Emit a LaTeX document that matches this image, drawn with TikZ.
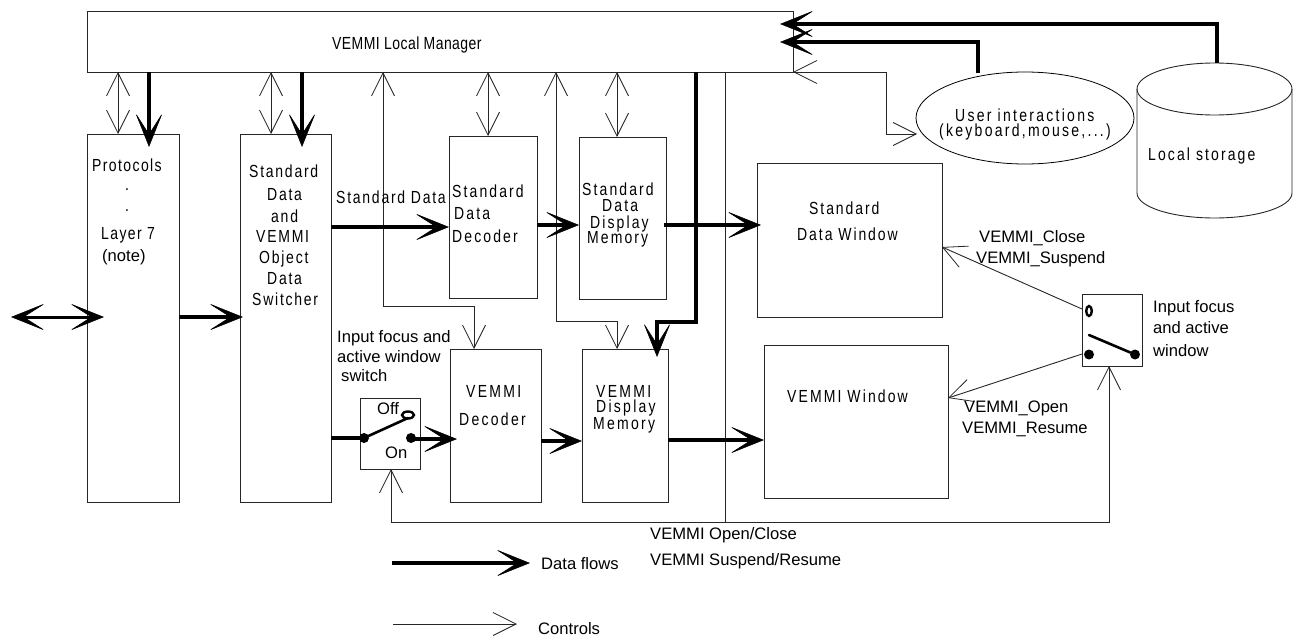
\documentclass[tikz,border=0pt]{standalone}
\usepackage{fontspec}
\usetikzlibrary{arrows.meta,shapes.geometric}
\setmainfont{Liberation Sans}
\newfontfamily\narfont[FakeStretch=0.8]{Liberation Sans}
\newcommand{\ls}[1]{\fontsize{17.5}{20}\selectfont\narfont\addfontfeature{LetterSpace=#1}}
\tikzset{
  x=1pt,y=-1pt,
  every path/.style={line join=miter},
  box/.style={draw=black!85,line width=0.9pt,anchor=north west,inner sep=0pt,outer sep=0pt},
  thinhead/.tip={Straight Barb[length=23pt,width=23pt,line width=0.8pt]},
  fathead/.tip={Stealth[length=35pt,width=28pt,inset=22pt,line width=0.6pt]},
  ctl/.style={draw=black!85,line width=0.9pt,-thinhead},
  ctlb/.style={draw=black!85,line width=0.9pt,thinhead-thinhead},
  flow/.style={draw=black,line width=4pt,-fathead},
  flowb/.style={draw=black,line width=3pt,fathead-fathead},
  plain/.style={font=\fontsize{16.6}{20}\selectfont,anchor=base west,inner sep=0pt,align=left},
  sp/.style={font=\ls{#1},anchor=base west,inner sep=0pt,align=left},
  blk/.style={sp=#1,execute at begin node={\baselineskip=0pt\lineskiplimit=-100pt\lineskip=0pt}},
  pblk/.style={plain,execute at begin node={\baselineskip=0pt\lineskiplimit=-100pt\lineskip=0pt}},
  dot/.style={circle,fill=black,inner sep=0pt,minimum size=10pt},
  lever/.style={draw=black,line width=2.6pt,line cap=round},
}
\begin{document}
\begin{tikzpicture}
\useasboundingbox (0,0) rectangle (1299,637);
% boxes
\node[box,minimum width=706pt,minimum height=61pt] (mgr) at (87,11) {};
\node[box,minimum width=92pt,minimum height=368pt] (proto) at (87,134) {};
\node[box,minimum width=91pt,minimum height=368pt] (swt) at (240,134) {};
\node[box,minimum width=88pt,minimum height=162pt] (sdd) at (449,136) {};
\node[box,minimum width=87pt,minimum height=162pt] (sdm) at (579,137) {};
\node[box,minimum width=91pt,minimum height=153pt] (vd) at (450,349) {};
\node[box,minimum width=86pt,minimum height=153pt] (vm) at (582,349) {};
\node[box,minimum width=60pt,minimum height=71pt] (swl) at (360,398) {};
\node[box,minimum width=60pt,minimum height=72pt] (swr) at (1082,294) {};
\node[box,minimum width=185pt,minimum height=154pt] (sw) at (757,163) {};
\node[box,minimum width=184pt,minimum height=153pt] (vw) at (764,345) {};
\node[ellipse,draw=black,line width=0.8pt,minimum width=218pt,minimum height=92pt,inner sep=0pt] (ui) at (1025,118) {};
% cylinder
\coordinate (cyltop) at (1217,63);
\draw[black!85,line width=0.9pt] (1214.5,89) ellipse [x radius=77.5,y radius=26];
\draw[black!85,line width=0.9pt] (1137,89) -- (1137,193) arc[start angle=180,end angle=0,x radius=77.5,y radius=25] -- (1292,89);
% free ends
\coordinate (inA) at (780,24);
\coordinate (inB) at (780,42);
\coordinate (lL) at (11,317);
\coordinate (lR) at (104,317);
\coordinate (legA) at (392,563);
\coordinate (legB) at (530,563);
\coordinate (legC) at (393,624);
\coordinate (legD) at (517,624);
\coordinate (corn) at (725,522);
% control connectors
\draw[ctlb] (118,0 |- mgr.south) -- (118,0 |- proto.north);
\draw[ctlb] (271,0 |- mgr.south) -- (271,0 |- swt.north);
\draw[ctlb] (488,0 |- mgr.south) -- (488,0 |- sdd.north);
\draw[ctlb] (617,0 |- mgr.south) -- (617,0 |- sdm.north);
\draw[ctlb] (383,0 |- mgr.south) -- (383,306) -- (474,306) -- (474,0 |- vd.north);
\draw[ctlb] (556,0 |- mgr.south) -- (556,321) -- (617,321) -- (617,0 |- vm.north);
\draw[ctlb] (mgr.south east) -- (886,72) -- (886,134) -- (917,134);
\draw[draw=black!85,line width=0.9pt] (725,0 |- mgr.south) -- (corn);
\draw[ctlb] (391,0 |- swl.south) -- (391,522) -- (1109,522) -- (1109,0 |- swr.south);
\draw[ctl] (swr.west |- 0,309) -- (942,247);
\draw[ctl] (swr.west |- 0,354) -- (948,398);
% data flows
\draw[flow] (149,0 |- mgr.south) -- (149,147);
\draw[flow] (302,0 |- mgr.south) -- (302,147);
\draw[flowb] (lL) -- (lR);
\draw[flow] (proto.east |- 0,317) -- (243,317);
\draw[flow] (swt.east |- 0,227) -- (sdd.west |- 0,227);
\draw[flow] (sdd.east |- 0,225) -- (sdm.west |- 0,225);
\draw[flow] (664,225) -- (761,225);
\draw[flow] (696,0 |- mgr.south) -- (696,322) -- (657,322) -- (657,357);
\draw[line width=4pt] (swt.east |- 0,438) -- (364,438);
\draw[flow] (411,439) -- (457,439);
\draw[flow] (vd.east |- 0,441) -- (vm.west |- 0,441);
\draw[flow] (vm.east |- 0,440) -- (vw.west |- 0,440);
\draw[flow] (978,73) -- (978,42) -- (inB);
\draw[flow] (cyltop) -- (1217,24) -- (inA);
\draw[flow] (legA) -- (legB);
\draw[ctl] (legC) -- (legD);
% switch left
\node[dot] (d1) at (364,438) {};
\node[dot] (d2) at (411,438) {};
\draw[lever] (d1) -- (408,418);
\draw[black,line width=2.4pt] (408,415) ellipse [x radius=6,y radius=3.5];
% switch right
\node[dot] (d3) at (1089,354.5) {};
\node[dot] (d4) at (1135,354.5) {};
\draw[lever] (1089,335) -- (d4);
\draw[black,line width=2.4pt] (1089,311) ellipse [x radius=2.8,y radius=5];
% spaced labels
\node[sp=2.5] (tmgr) at (332,49) {VEMMI Local Manager};
\node[blk=8] (t1) at (92,239) {Protocols\\[19pt]\hspace*{33pt}.\\[21pt]\hspace*{33pt}.\\[28pt]\hspace*{9pt}Layer 7};
\node[plain] (t1b) at (102,261) {(note)};
\node[blk=10] (t2) at (249,305) {Standard\\[23pt]\hspace*{18pt}Data\\[22pt]\hspace*{22pt}and\\[20pt]\hspace*{7pt}VEMMI\\[21pt]\hspace*{10pt}Object\\[21pt]\hspace*{18pt}Data\\[21pt]\hspace*{3pt}Switcher};
\node[sp=10] (t3) at (336,203) {Standard Data};
\node[blk=12] (t4) at (452,242) {Standard\\[22pt]\hspace*{2pt}Data\\[23pt]Decoder};
\node[blk=12] (t5) at (582,243) {Standard\\[16pt]\hspace*{20pt}Data\\[17pt]\hspace*{8pt}Display\\[15pt]\hspace*{5pt}Memory};
\node[blk=13] (t6) at (459,425) {\hspace*{7pt}VEMMI\\[28pt]Decoder};
\node[blk=13] (t7) at (593,429) {\hspace*{3pt}VEMMI\\[15pt]\hspace*{3pt}Display\\[17pt]Memory};
\node[blk=11] (t8) at (797,240) {\hspace*{12pt}Standard\\[26pt]Data Window};
\node[sp=12] (t9) at (787,402) {VEMMI Window};
\node[blk=13] (t10) at (939,136) {\hspace*{16pt}User interactions\\[15pt](keyboard,mouse,...)};
\node[sp=12] (t11) at (1148,160) {Local storage};
% plain labels
\node[pblk] (p1) at (337,381) {Input focus and\\[20pt]active window\\[19pt]\hspace*{4pt}switch};
\node[plain] (p2) at (377,414) {Off};
\node[plain] (p3) at (385,458) {On};
\node[pblk] (p4) at (1153,356) {Input focus\\[21pt]and active\\[23pt]window};
\node[pblk] (p5) at (976,263) {\hspace*{3pt}VEMMI\_Close\\[21pt]VEMMI\_Suspend};
\node[pblk] (p6) at (962,433) {\hspace*{2pt}VEMMI\_Open\\[21pt]VEMMI\_Resume};
\node[pblk] (p7) at (650,565) {VEMMI Open/Close\\[26pt]VEMMI Suspend/Resume};
\node[plain] (p8) at (541,569) {Data flows};
\node[plain] (p9) at (538,634) {Controls};
\end{tikzpicture}
\end{document}
